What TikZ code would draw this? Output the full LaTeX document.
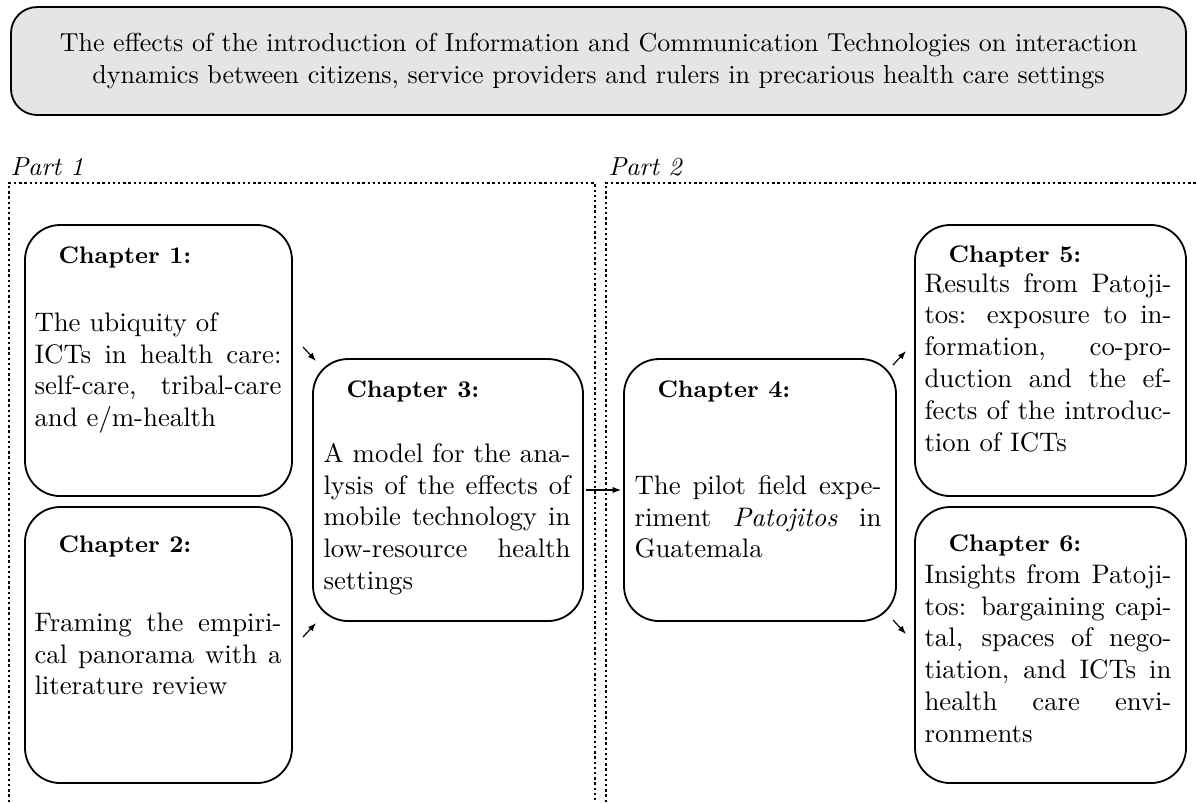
\documentclass[tikz,border=0pt]{standalone}
\usetikzlibrary{arrows.meta,fit}
\begin{document}
\begin{tikzpicture}[x=0.3846pt,y=-0.3846pt,
  chapbox/.style={draw, line width=0.7pt, rounded corners=13.5pt, inner sep=0pt},
  titlebox/.style={draw, line width=0.7pt, rounded corners=10pt, fill=gray!20, align=center,
    minimum width=451.9pt, minimum height=41.5pt, inner sep=0pt},
  chead/.style={anchor=base west, inner sep=0pt, font=\fontsize{9.2pt}{11pt}\selectfont\bfseries},
  cbody/.style={anchor=base west, inner sep=0pt, text width=95pt, align=justify,
    font=\fontsize{10.3pt}{12.3pt}\selectfont},
  partlabel/.style={anchor=base west, inner sep=0pt, font=\itshape},
  frame/.style={line width=0.45pt, dash pattern=on 0.9pt off 1.1pt},
  arr/.style={-{Latex[length=3.2pt,width=2.4pt]}, line width=0.45pt}
]
\useasboundingbox (0,0) rectangle (1197,802);

% title
\node[titlebox] (title) at (598.5,61)
  {The effects of the introduction of Information and Communication Technologies on interaction\\
   dynamics between citizens, service providers and rulers in precarious health care settings};

% parts
\node[partlabel] (p1) at (10,175) {Part 1};
\node[partlabel] (p2) at (608,175) {Part 2};
\draw[frame] (9,802) -- (9,183) -- (595,183) -- (595,802);
\draw[frame] (606,802) -- (606,183) -- (1197,183);

% chapter boxes
\node[chapbox, fit={(25,225) (292,496)}] (ch1) {};
\node[chapbox, fit={(25,507) (292,783)}] (ch2) {};
\node[chapbox, fit={(313,359) (583,621)}] (ch3) {};
\node[chapbox, fit={(624,359) (896,621)}] (ch4) {};
\node[chapbox, fit={(915,225) (1186,496)}] (ch5) {};
\node[chapbox, fit={(915,507) (1186,783)}] (ch6) {};

% chapter texts
\node[chead] (h1) at (58,263) {Chapter 1:};
\node[cbody] (b1) at (34,331) {The ubiquity of\\ ICTs in health care:\linebreak self-care, tribal-care\linebreak and e/m-health};

\node[chead] (h2) at (58,552) {Chapter 2:};
\node[cbody] (b2) at (34,631) {Framing the empiri-\linebreak cal panorama with a\linebreak literature review};

\node[chead] (h3) at (346,397) {Chapter 3:};
\node[cbody] (b3) at (323,462) {A model for the ana-\linebreak lysis of the effects of\linebreak mobile technology in\linebreak low-resource health\linebreak settings};

\node[chead] (h4) at (657,397) {Chapter 4:};
\node[cbody] (b4) at (634,494) {The pilot field expe-\linebreak riment \textit{Patojitos} in\linebreak Guatemala};

\node[chead] (h5) at (948,262) {Chapter 5:};
\node[cbody] (b5) at (924,292) {Results from Patoji-\linebreak tos: exposure to in-\linebreak formation, co-pro-\linebreak duction and the ef-\linebreak fects of the introduc-\linebreak tion of ICTs};

\node[chead] (h6) at (948,551) {Chapter 6:};
\node[cbody] (b6) at (924,583) {Insights from Patoji-\linebreak tos: bargaining capi-\linebreak tal, spaces of nego-\linebreak tiation, and ICTs in\linebreak health care envi-\linebreak ronments};

% arrows
\coordinate (a1s) at (303,347); \coordinate (a1e) at (316,361);
\coordinate (a2s) at (303,637); \coordinate (a2e) at (316,623);
\coordinate (a5s) at (893,365); \coordinate (a5e) at (906,351);
\coordinate (a6s) at (893,620); \coordinate (a6e) at (906,634);
\draw[arr] (a1s) -- (a1e);
\draw[arr] (a2s) -- (a2e);
\draw[arr, shorten <=0.8pt, shorten >=0.8pt] (ch3.east) -- (ch4.west);
\draw[arr] (a5s) -- (a5e);
\draw[arr] (a6s) -- (a6e);
\end{tikzpicture}
\end{document}
